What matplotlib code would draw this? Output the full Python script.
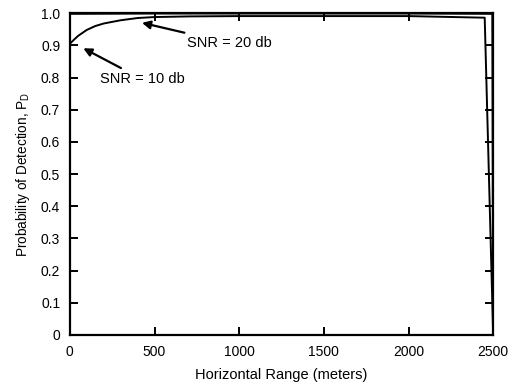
import matplotlib

matplotlib.use("Agg")
import matplotlib.pyplot as plt

plt.rcParams["font.family"] = ["Liberation Sans", "DejaVu Sans"]

# SNR = 10 db curve
range_10db = [0, 25, 50, 100, 150, 200, 300, 400, 500, 700, 1000, 1500, 2000, 2450, 2500]
pd_10db = [0.905, 0.918, 0.930, 0.948, 0.960, 0.968, 0.978, 0.985, 0.988, 0.990,
           0.991, 0.991, 0.991, 0.986, 0.0]

# SNR = 20 db curve, sits on the top of the frame
range_20db = [0, 500, 1000, 1500, 2000, 2495, 2500]
pd_20db = [0.998, 0.999, 0.999, 0.999, 0.999, 0.998, 0.0]

x_ticks = [0, 500, 1000, 1500, 2000, 2500]
y_ticks = [0, 0.1, 0.2, 0.3, 0.4, 0.5, 0.6, 0.7, 0.8, 0.9, 1.0]
y_tick_labels = ["0", "0.1", "0.2", "0.3", "0.4", "0.5", "0.6", "0.7", "0.8", "0.9", "1.0"]

fig = plt.figure(figsize=(5.1, 3.88), dpi=100)
ax = fig.add_axes([0.137, 0.137, 0.830, 0.829])

ax.plot(range_20db, pd_20db, color="black", linewidth=1.4)
ax.plot(range_10db, pd_10db, color="black", linewidth=1.4)

ax.set_xlim(0, 2500)
ax.set_ylim(0, 1.0)
ax.set_xticks(x_ticks)
ax.set_yticks(y_ticks)
ax.set_yticklabels(y_tick_labels)
ax.tick_params(direction="in", length=6, width=1.4, top=True, right=True,
               labelsize=10, pad=7, colors="black")
for spine in ax.spines.values():
    spine.set_linewidth(1.6)

ax.set_xlabel("Horizontal Range (meters)", fontsize=10.5, labelpad=7)
ax.set_ylabel("Probability of Detection, P$_\\mathregular{D}$", fontsize=9.8, labelpad=6)

arrow = dict(arrowstyle="-|>", color="black", linewidth=1.6, mutation_scale=12)
ax.annotate("SNR = 20 db", xy=(410, 0.972), xytext=(690, 0.907),
            fontsize=10.5, ha="left", va="center", arrowprops=arrow)
ax.annotate("SNR = 10 db", xy=(65, 0.895), xytext=(176, 0.795),
            fontsize=10.5, ha="left", va="center", arrowprops=arrow)

fig.savefig("out.png", dpi=100)
